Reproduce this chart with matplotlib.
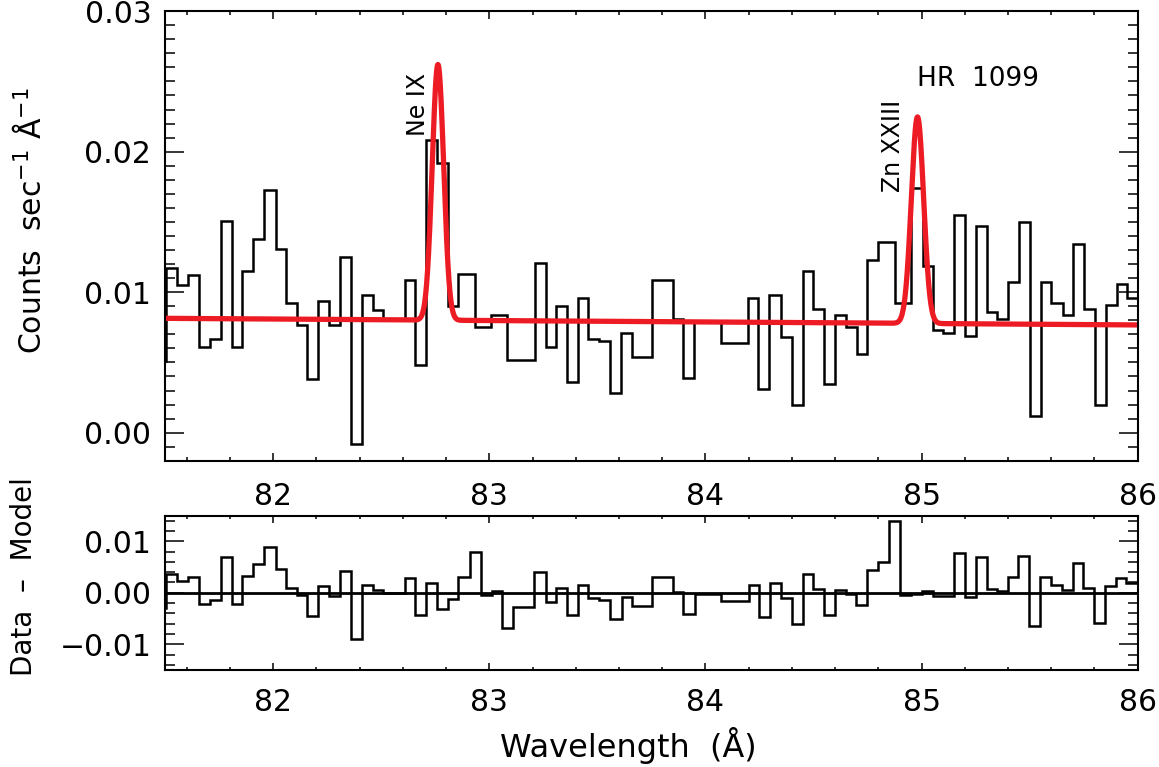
import numpy as np
import matplotlib
matplotlib.use('Agg')
import matplotlib.pyplot as plt

# observed spectrum (step edges in Angstrom, counts/s/A per step)
top_edges = [81.45, 81.502, 81.553, 81.604, 81.658, 81.707, 81.757, 81.808, 81.857, 81.907,
             81.958, 82.011, 82.057, 82.108, 82.157, 82.208, 82.258, 82.309, 82.360, 82.409,
             82.460, 82.509, 82.609, 82.658, 82.707, 82.756, 82.807, 82.856, 82.933, 83.006,
             83.083, 83.211, 83.260, 83.308, 83.357, 83.411, 83.457, 83.507, 83.558, 83.609,
             83.658, 83.754, 83.851, 83.897, 83.948, 84.071, 84.198, 84.244, 84.295, 84.348,
             84.399, 84.449, 84.498, 84.548, 84.599, 84.650, 84.699, 84.748, 84.799, 84.876,
             84.950, 85.005, 85.051, 85.100, 85.149, 85.200, 85.251, 85.301, 85.350, 85.401,
             85.452, 85.501, 85.552, 85.601, 85.652, 85.701, 85.751, 85.802, 85.851, 85.902,
             85.951, 86.05]
top_counts = [0.0051, 0.0117, 0.0105, 0.0112, 0.0061, 0.0067, 0.0151, 0.0061, 0.0115, 0.0138,
              0.0173, 0.0131, 0.0092, 0.0077, 0.0038, 0.0094, 0.0077, 0.0125, -0.0008, 0.0098,
              0.0087, 0.0081, 0.0109, 0.0048, 0.0208, 0.0192, 0.0090, 0.0113, 0.0075, 0.0084,
              0.0052, 0.0121, 0.0061, 0.0090, 0.0036, 0.0096, 0.0067, 0.0065, 0.0028, 0.0071,
              0.0054, 0.0109, 0.0081, 0.0039, 0.0079, 0.0064, 0.0096, 0.0031, 0.0098, 0.0068,
              0.0020, 0.0115, 0.0088, 0.0035, 0.0084, 0.0075, 0.0056, 0.0123, 0.0136, 0.0092,
              0.0174, 0.0119, 0.0073, 0.0071, 0.0155, 0.0069, 0.0147, 0.0086, 0.0081, 0.0107,
              0.0150, 0.0012, 0.0107, 0.0092, 0.0084, 0.0134, 0.0088, 0.0020, 0.0091, 0.0106,
              0.0096]

# residuals (data - model)
res_edges = [81.45, 81.502, 81.553, 81.604, 81.658, 81.707, 81.757, 81.808, 81.857, 81.907,
             81.958, 82.011, 82.057, 82.108, 82.157, 82.208, 82.258, 82.309, 82.360, 82.409,
             82.460, 82.509, 82.609, 82.658, 82.707, 82.756, 82.807, 82.856, 82.910, 82.960,
             83.011, 83.057, 83.110, 83.208, 83.260, 83.308, 83.360, 83.411, 83.457, 83.508,
             83.558, 83.612, 83.658, 83.754, 83.851, 83.897, 83.951, 84.071, 84.202, 84.249,
             84.298, 84.349, 84.399, 84.449, 84.498, 84.549, 84.599, 84.650, 84.696, 84.746,
             84.797, 84.849, 84.900, 84.951, 85.000, 85.051, 85.100, 85.149, 85.200, 85.250,
             85.301, 85.350, 85.398, 85.447, 85.498, 85.548, 85.597, 85.648, 85.699, 85.748,
             85.799, 85.848, 85.899, 85.948, 86.05]
res_counts = [-0.0030, 0.0036, 0.0023, 0.0030, -0.0022, -0.0014, 0.0069, -0.0022, 0.0032, 0.0056,
              0.0089, 0.0047, 0.0010, -0.0005, -0.0045, 0.0013, -0.0006, 0.0043, -0.0089, 0.0016,
              0.0006, -0.0001, 0.0028, -0.0043, 0.0018, -0.0032, -0.0012, 0.0031, 0.0080, -0.0005,
              0.0004, -0.0069, -0.0028, 0.0041, -0.0017, 0.0010, -0.0043, 0.0015, -0.0011, -0.0014,
              -0.0051, -0.0008, -0.0026, 0.0030, 0.0002, -0.0041, -0.0003, -0.0016, 0.0016, -0.0048,
              0.0018, -0.0011, -0.0060, 0.0036, 0.0008, -0.0043, 0.0006, -0.0003, -0.0023, 0.0044,
              0.0059, 0.0140, -0.0005, -0.0003, 0.0004, -0.0006, -0.0006, 0.0078, -0.0009, 0.0070,
              0.0008, 0.0004, 0.0031, 0.0072, -0.0065, 0.0030, 0.0015, 0.0006, 0.0057, 0.0010,
              -0.0058, 0.0013, 0.0028, 0.0019]

# fitted model: linear continuum + two gaussian lines
cont_wave = [81.5, 86.0]
cont_level = [0.00814, 0.00767]
line_names = ['Ne IX', 'Zn XXIII']
line_center = [82.762, 84.981]
line_peak = [0.0182, 0.0147]
line_sigma = [0.0265, 0.0285]

top_yticks = [0.00, 0.01, 0.02, 0.03]
top_ylabels = ['0.00', '0.01', '0.02', '0.03']
res_yticks = [-0.01, 0.00, 0.01]
res_ylabels = ['\u22120.01', '0.00', '0.01']
xticks = [82, 83, 84, 85, 86]

wave = np.linspace(81.5, 86.0, 3000)
model = np.interp(wave, cont_wave, cont_level)
for c, a, s in zip(line_center, line_peak, line_sigma):
    model = model + a * np.exp(-0.5 * ((wave - c) / s) ** 2)

plt.rcParams['font.family'] = 'DejaVu Sans'
fig = plt.figure(figsize=(11.59, 7.67), dpi=100)
ax1 = fig.add_axes([0.14254, 0.39922, 0.83909, 0.58618])
ax2 = fig.add_axes([0.14254, 0.12647, 0.83909, 0.20143])

ax1.stairs(top_counts, top_edges, baseline=None, color='black', lw=1.8)
ax1.plot(wave, model, color='#ed1c24', lw=3.8, solid_capstyle='butt')
ax1.set_xlim(81.5, 86.0)
ax1.set_ylim(-0.002, 0.030)
ax1.set_yticks(top_yticks)
ax1.set_yticklabels(top_ylabels)
ax1.set_yticks(np.arange(-0.002, 0.0301, 0.001), minor=True)

ax1.text(82.668, 0.0211, line_names[0], rotation=90, ha='center', va='bottom', fontsize=17)
ax1.text(84.866, 0.0171, line_names[1], rotation=90, ha='center', va='bottom', fontsize=17)
ax1.text(84.98, 0.0247, 'HR  1099', ha='left', va='baseline', fontsize=19)

ax2.stairs(res_counts, res_edges, baseline=None, color='black', lw=1.8)
ax2.axhline(0.0, color='black', lw=2.0)
ax2.set_xlim(81.5, 86.0)
ax2.set_ylim(-0.015, 0.015)
ax2.set_yticks(res_yticks)
ax2.set_yticklabels(res_ylabels)
ax2.set_yticks(np.arange(-0.014, 0.0141, 0.002), minor=True)

for ax, xpad, xlen in [(ax1, 15, 6.0), (ax2, 13, 4.8)]:
    ax.set_xticks(xticks)
    ax.set_xticks(np.arange(81.6, 86.0, 0.2), minor=True)
    for sp in ax.spines.values():
        sp.set_linewidth(1.5)
    ax.tick_params(which='both', direction='in', top=True, right=True, width=1.1,
                   labelsize=21.5)
    ax.tick_params(axis='y', which='major', length=13.5, pad=10)
    ax.tick_params(axis='y', which='minor', length=7)
    ax.tick_params(axis='x', which='major', length=xlen, pad=xpad)
    ax.tick_params(axis='x', which='minor', length=xlen / 2)

fig.text(47 / 1159, 1 - 221 / 767, 'Counts  sec$^{-1}$ \u00c5$^{-1}$', rotation=90,
         ha='right', va='center', fontsize=21.5)
fig.text(38 / 1159, 1 - 577 / 767, 'Data  \u2013  Model', rotation=90,
         ha='right', va='center', fontsize=20)
fig.text(628 / 1159, 1 - 745 / 767, 'Wavelength  (\u00c5)', ha='center', va='center',
         fontsize=23)

plt.savefig('out.png', dpi=100)
